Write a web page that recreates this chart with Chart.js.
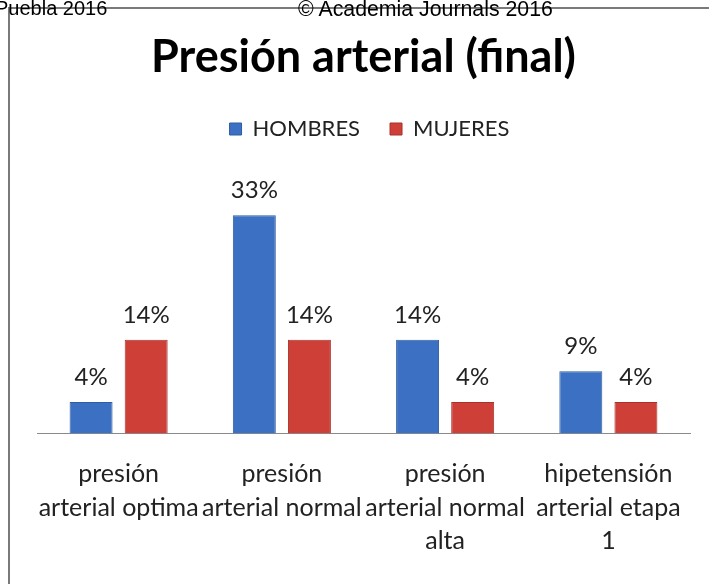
<!DOCTYPE html>
<html>
<head>
<meta charset="utf-8">
<script src="https://cdn.jsdelivr.net/npm/chart.js@4.4.1/dist/chart.umd.min.js"></script>
<style>
  body { margin: 0; background: #fff; overflow: hidden; }
  #hoja { position: relative; width: 709px; height: 584px; overflow: hidden; }
  #presionChart { position: absolute; left: 0; top: 0; }
  .linea { position: absolute; background: #7a7a7a; }
  .cabecera { position: absolute; top: -3px; font-family: "Liberation Sans", Arial, sans-serif; font-size: 20px; color: #000; white-space: nowrap; }
</style>
</head>
<body>
<div id="hoja">
  <canvas id="presionChart" width="709" height="584"></canvas>
  <div class="linea" style="left:8px; top:7px; width:701px; height:2px;"></div>
  <div class="linea" style="left:8px; top:7px; width:2px; height:577px;"></div>
  <div class="cabecera" style="left:-5px;">Puebla 2016</div>
  <div class="cabecera" style="left:298px; font-size:21.3px;">© Academia Journals 2016</div>
</div>
<script>
// datos
const categorias = [
  ['presión', 'arterial optima'],
  ['presión', 'arterial normal'],
  ['presión', 'arterial normal', 'alta'],
  ['hipetensión', 'arterial etapa', '1']
];
const hombres = [4.8, 33.3, 14.3, 9.5];
const mujeres = [14.3, 14.3, 4.8, 4.8];
const etiquetasHombres = ['4%', '33%', '14%', '9%'];
const etiquetasMujeres = ['14%', '14%', '4%', '4%'];
const etiquetas = [etiquetasHombres, etiquetasMujeres];

// texto encima de cada barra
const etiquetasBarras = {
  id: 'etiquetasBarras',
  afterDatasetsDraw(chart) {
    const c = chart.ctx;
    c.save();
    c.font = '24px Lato';
    c.fillStyle = '#222';
    c.textAlign = 'center';
    c.textBaseline = 'alphabetic';
    chart.data.datasets.forEach((ds, i) => {
      chart.getDatasetMeta(i).data.forEach((bar, j) => {
        c.fillText(etiquetas[i][j], bar.x, bar.y - 17);
      });
    });
    c.restore();
  }
};

// deja espacio bajo la leyenda y la corre un poco a la derecha
const alturaLeyenda = {
  id: 'alturaLeyenda',
  beforeInit(chart) {
    const fitOriginal = chart.legend.fit;
    chart.legend.fit = function() {
      fitOriginal.bind(chart.legend)();
      this.height = 116;
    };
  },
  afterLayout(chart) {
    chart.legend.left += 6;
    chart.legend.right += 6;
  }
};

const ctx = document.getElementById('presionChart');
const myChart = new Chart(ctx, {
  type: 'bar',
  data: {
    labels: categorias,
    datasets: [{
      label: 'HOMBRES',
      data: hombres,
      backgroundColor: '#3b70c2',
      borderColor: '#2f5d9f',
      borderWidth: 1
    }, {
      label: 'MUJERES',
      data: mujeres,
      backgroundColor: '#cd3f37',
      borderColor: '#a8322c',
      borderWidth: 1
    }]
  },
  options: {
    responsive: false,
    animation: false,
    devicePixelRatio: 1,
    categoryPercentage: 0.675,
    barPercentage: 0.78,
    layout: {
      padding: { left: 37, right: 19, top: 0, bottom: 2 }
    },
    plugins: {
      title: {
        display: true,
        text: 'Presión arterial (final)',
        color: '#000',
        font: { family: 'Lato', size: 45, weight: 'bold', lineHeight: 1.2 },
        padding: { top: 30, bottom: 4 }
      },
      legend: {
        display: true,
        labels: {
          color: '#222',
          font: { family: 'Lato', size: 22 },
          boxWidth: 12,
          boxHeight: 12,
          padding: 30
        }
      },
      tooltip: { enabled: false }
    },
    scales: {
      x: {
        grid: { display: false, drawTicks: false },
        border: { display: true, color: '#8a8a8a', width: 1 },
        ticks: {
          color: '#222',
          font: { family: 'Lato', size: 25, lineHeight: 1.34 },
          padding: 24,
          maxRotation: 0,
          minRotation: 0,
          autoSkip: false
        }
      },
      y: {
        display: false,
        min: 0,
        max: 35
      }
    }
  },
  plugins: [etiquetasBarras, alturaLeyenda]
});
</script>
</body>
</html>
